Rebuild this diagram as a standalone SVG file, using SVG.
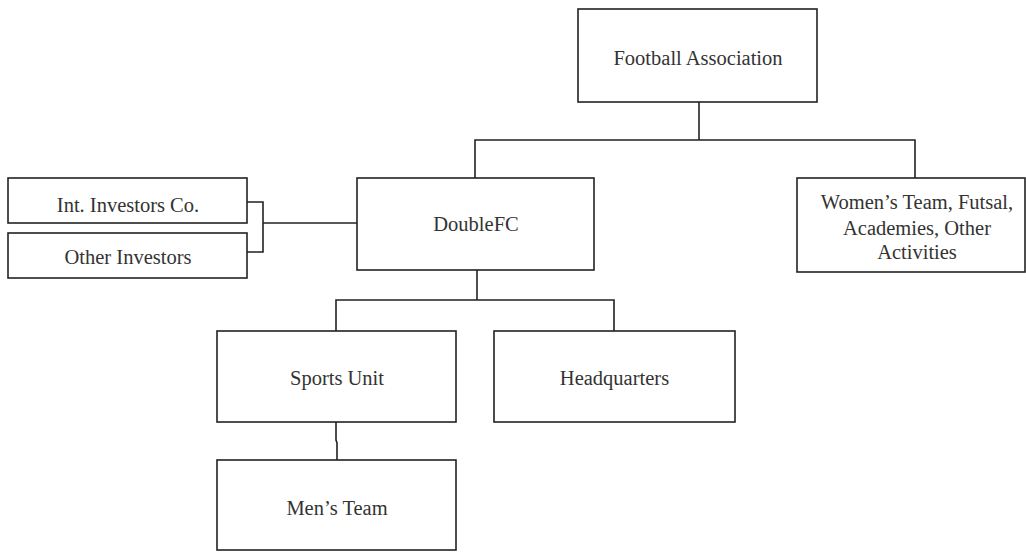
<svg xmlns="http://www.w3.org/2000/svg" width="1026" height="552" viewBox="0 0 1026 552">
<style>
.box{fill:#fff;stroke:#222;stroke-width:1.6}
.ln{fill:none;stroke:#222;stroke-width:1.6}
text{font-family:"Liberation Serif","Times New Roman",serif;font-size:20.5px;fill:#333;text-anchor:middle}
</style>
<rect width="1026" height="552" fill="#fff"/>
<g id="connectors">
<polyline class="ln" points="699,102 699,140"/>
<polyline class="ln" points="475,178 475,140 915,140 915,178"/>
<polyline class="ln" points="247,202 263,202 263,252 247,252"/>
<polyline class="ln" points="263,223 357,223"/>
<polyline class="ln" points="477,270 477,300"/>
<polyline class="ln" points="336,331 336,300 614,300 614,331"/>
<polyline class="ln" points="336,422 336,440 337,443 337,460"/>
</g>
<g id="fa"><rect class="box" x="578" y="9" width="239" height="93"/><text x="698" y="64.5">Football Association</text></g>
<g id="doublefc"><rect class="box" x="357" y="178" width="237" height="92"/><text x="476" y="231">DoubleFC</text></g>
<g id="women"><rect class="box" x="797" y="178" width="228" height="94"/><text x="917" y="208.5">Women’s Team, Futsal,</text><text x="917" y="235">Academies, Other</text><text x="917" y="258.5">Activities</text></g>
<g id="intinv"><rect class="box" x="8" y="178" width="239" height="45"/><text x="128" y="211.5">Int. Investors Co.</text></g>
<g id="otherinv"><rect class="box" x="8" y="233" width="239" height="45"/><text x="128" y="263.5">Other Investors</text></g>
<g id="sports"><rect class="box" x="217" y="331" width="239" height="91"/><text x="337" y="385">Sports Unit</text></g>
<g id="hq"><rect class="box" x="494" y="331" width="241" height="91"/><text x="614.5" y="385">Headquarters</text></g>
<g id="mens"><rect class="box" x="217" y="460" width="239" height="90"/><text x="337" y="514.5">Men’s Team</text></g>
</svg>
